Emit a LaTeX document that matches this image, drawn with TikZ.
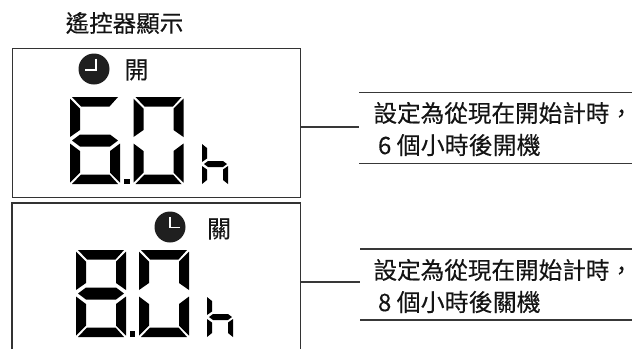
\documentclass[tikz,border=0pt]{standalone}
\usepackage{fontspec}
\setmainfont[FakeBold=0.25]{Noto Sans CJK TC}
\tikzset{
  frameline/.style={draw=black!80,line width=1.4pt},
  rule/.style={draw=black!78,line width=1.4pt},
  seg/.style={fill=black,draw=none},
  txt/.style={inner sep=0pt,outer sep=0pt,text=black!92},
  clockface/.style={circle,fill=black!88,draw=none,inner sep=0pt,minimum size=31pt},
  hand/.style={draw=white,line width=1.5pt,line cap=butt,line join=miter}
}
% seven-segment pieces, local box 50 x 87
\newcommand{\sA}{\fill[seg] (2,0)--(48,0)--(39.5,9.5)--(11,9.5)--cycle;}
\newcommand{\sB}{\fill[seg] (50,1.5)--(50,40)--(40,33)--(40,11.5)--cycle;}
\newcommand{\sC}{\fill[seg] (50,46.5)--(50,85.5)--(40,75.5)--(40,54)--cycle;}
\newcommand{\sD}{\fill[seg] (11,77.5)--(39.5,77.5)--(48,87)--(2,87)--cycle;}
\newcommand{\sE}{\fill[seg] (0,46.5)--(10,54)--(10,75.5)--(0,85.5)--cycle;}
\newcommand{\sF}{\fill[seg] (0,1.5)--(10,11.5)--(10,33)--(0,40)--cycle;}
\newcommand{\sG}{\fill[seg] (2,43.5)--(10,37.5)--(40,37.5)--(48,43.5)--(40,49.5)--(10,49.5)--cycle;}
\newcommand{\sH}{\fill[seg] (0,0)--(5,4)--(5,14.5)--(0,18)--cycle;
  \fill[seg] (0,22)--(5,25.5)--(5,36)--(0,40)--cycle;
  \fill[seg] (2,20)--(6,17)--(21,17)--(25,20)--(21,23)--(6,23)--cycle;
  \fill[seg] (21,25.5)--(26,22)--(26,40)--(21,36)--cycle;}
\begin{document}
\begin{tikzpicture}[x=1pt,y=-1pt]
\useasboundingbox (0,0) rectangle (632,349);
\node[txt,anchor=center,font=\fontsize{23.5}{26}\selectfont] (title) at (124.5,23) {遙控器顯示};
% upper display
\node[frameline,rectangle,inner sep=0pt,minimum width=288pt,minimum height=149pt,anchor=north west] (box1) at (12,48) {};
\node[clockface] (clock1) at (94,69) {};
\draw[hand] (96,58.5)--(96,70)--(85,70);
\node[txt,font=\fontsize{24}{26}\selectfont] (on) at (136.5,70) {開};
\begin{scope}[shift={(70,97)}]\sA\sC\sD\sE\sF\sG\end{scope}
\fill[seg] (124,178.5) rectangle (130,184);
\begin{scope}[shift={(133.5,97)}]\sA\sB\sC\sD\sE\sF\end{scope}
\begin{scope}[shift={(202,144)}]\sH\end{scope}
% lower display, open at the bottom
\coordinate (b2bl) at (12,349);
\coordinate (b2tl) at (12,203);
\coordinate (b2tr) at (300.5,203);
\coordinate (b2br) at (300.5,349);
\draw[frameline] (b2bl)--(b2tl)--(b2tr)--(b2br);
\node[clockface] (clock2) at (170,227) {};
\draw[hand] (170,217)--(170,227.5)--(180,227.5);
\node[txt,font=\fontsize{24}{26}\selectfont] (off) at (219,229) {關};
\begin{scope}[shift={(76,250)}]\sA\sB\sC\sD\sE\sF\sG\end{scope}
\fill[seg] (129.5,331) rectangle (135,336.5);
\begin{scope}[shift={(139,250)}]\sA\sB\sC\sD\sE\sF\end{scope}
\begin{scope}[shift={(207,297)}]\sH\end{scope}
% right captions
\coordinate (r1a) at (359,92.5);\coordinate (r1b) at (632,92.5);
\coordinate (r1c) at (359,163.5);\coordinate (r1d) at (632,163.5);
\coordinate (j1) at (359,127);
\draw[rule] (r1a)--(r1b);\draw[rule] (r1c)--(r1d);
\draw[rule] (box1.east |- j1)--(j1);
\coordinate (r2a) at (360,249);\coordinate (r2b) at (632,249);
\coordinate (r2c) at (360,320);\coordinate (r2d) at (632,320);
\coordinate (j2) at (360,282);
\coordinate (j2l) at (301,282);
\draw[rule] (r2a)--(r2b);\draw[rule] (r2c)--(r2d);
\draw[rule] (j2l)--(j2);
\node[txt,anchor=west,font=\fontsize{23.6}{26}\selectfont] (c1a) at (373.5,113) {設定為從現在開始計時，};
\node[txt,anchor=west,font=\fontsize{24}{26}\selectfont] (c1b) at (378,145) {6 個小時後開機};
\node[txt,anchor=west,font=\fontsize{23.6}{26}\selectfont] (c2a) at (373.5,270) {設定為從現在開始計時，};
\node[txt,anchor=west,font=\fontsize{24}{26}\selectfont] (c2b) at (378,302) {8 個小時後關機};
\end{tikzpicture}
\end{document}
